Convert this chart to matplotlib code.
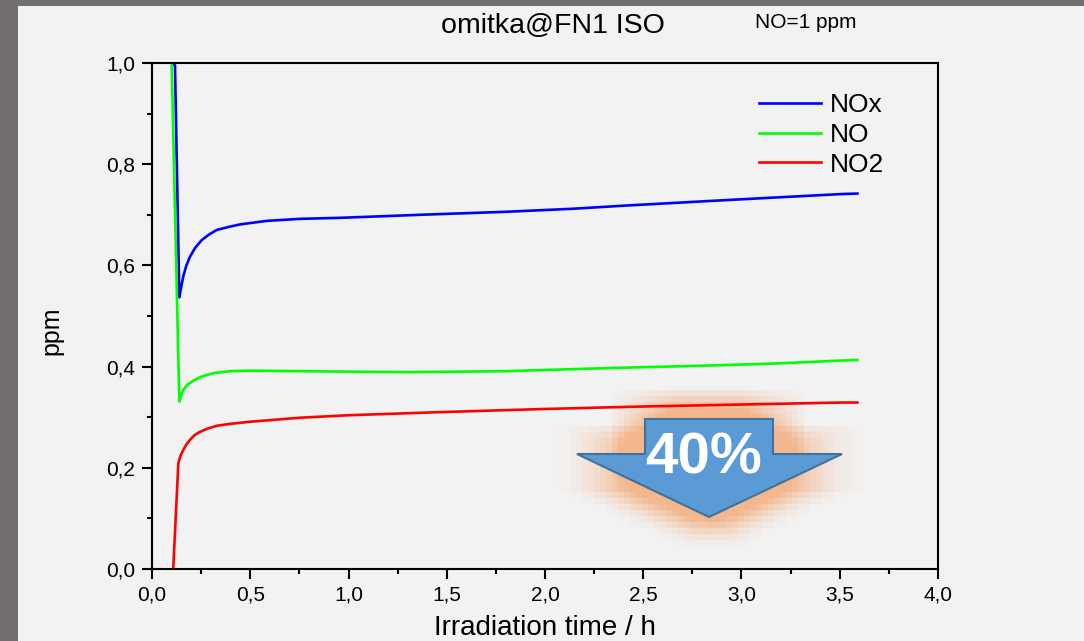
import numpy as np
import matplotlib
matplotlib.use("Agg")
import matplotlib.pyplot as plt
from matplotlib.patches import Polygon, Rectangle
from matplotlib.path import Path
from matplotlib.ticker import FuncFormatter, MultipleLocator

plt.rcParams["font.family"] = ["Liberation Sans", "DejaVu Sans"]

# data (time in h, concentration in ppm)
nox_t = [0.107, 0.117, 0.139, 0.150, 0.159, 0.175, 0.193, 0.220, 0.253, 0.290, 0.329, 0.390,
         0.448, 0.584, 0.753, 0.957, 1.364, 1.805, 2.144, 2.399, 2.823, 3.162, 3.510, 3.590]
nox_v = [1.000, 0.995, 0.537, 0.560, 0.578, 0.600, 0.617, 0.635, 0.650, 0.661, 0.670, 0.676,
         0.681, 0.688, 0.692, 0.694, 0.700, 0.706, 0.712, 0.718, 0.727, 0.734, 0.741, 0.742]

no_t = [0.100, 0.139, 0.150, 0.159, 0.180, 0.210, 0.250, 0.312, 0.400, 0.499, 0.753, 1.008,
        1.296, 1.805, 2.314, 2.823, 3.162, 3.510, 3.590]
no_v = [1.000, 0.331, 0.344, 0.354, 0.364, 0.372, 0.380, 0.387, 0.391, 0.392, 0.391, 0.390,
        0.389, 0.391, 0.397, 0.402, 0.406, 0.412, 0.413]

no2_t = [0.108, 0.134, 0.145, 0.159, 0.175, 0.193, 0.215, 0.244, 0.280, 0.329, 0.400, 0.499,
         0.753, 1.008, 1.466, 1.975, 2.483, 2.992, 3.510, 3.590]
no2_v = [0.000, 0.209, 0.224, 0.235, 0.246, 0.255, 0.264, 0.271, 0.277, 0.283, 0.287, 0.291,
         0.299, 0.304, 0.310, 0.316, 0.321, 0.325, 0.329, 0.329]

labels = ["NOx", "NO", "NO2"]
colors = ["#0000ff", "#00ff00", "#ff0000"]

W, H = 1084, 641
bg = "#f2f2f2"

fig = plt.figure(figsize=(W / 100, H / 100), dpi=100, facecolor=bg)
ax = fig.add_axes([152 / W, 1 - 569 / H, (938 - 152) / W, (569 - 63) / H])
ax.set_facecolor("none")

for t, v, lab, c in zip([nox_t, no_t, no2_t], [nox_v, no_v, no2_v], labels, colors):
    ax.plot(t, v, color=c, lw=1.9, label=lab)

ax.set_xlim(0, 4)
ax.set_ylim(0, 1)
ax.xaxis.set_major_locator(MultipleLocator(0.5))
ax.xaxis.set_minor_locator(MultipleLocator(0.25))
ax.yaxis.set_major_locator(MultipleLocator(0.2))
ax.yaxis.set_minor_locator(MultipleLocator(0.1))
comma = FuncFormatter(lambda v, p: f"{v:.1f}".replace(".", ","))
ax.xaxis.set_major_formatter(comma)
ax.yaxis.set_major_formatter(comma)

for s in ax.spines.values():
    s.set_linewidth(1.5)
ax.tick_params(which="major", direction="out", length=7, width=1.5, labelsize=15, pad=5,
               top=False, right=False)
ax.tick_params(which="minor", direction="out", length=3.5, width=1.5, top=False, right=False)

leg = ax.legend(loc="upper left", bbox_to_anchor=((759 - 152) / (938 - 152), 1 - (93 - 63) / (569 - 63)),
                frameon=False, fontsize=19, handlelength=2.35, handletextpad=0.35,
                labelspacing=0.22, borderpad=0, borderaxespad=0)

fig.text(553 / W, 1 - 33 / H, "omitka@FN1 ISO", ha="center", va="baseline", fontsize=20.5)
fig.text(755 / W, 1 - 28 / H, "NO=1 ppm", ha="left", va="baseline", fontsize=15)
fig.text(545 / W, 1 - 635 / H, "Irradiation time / h", ha="center", va="baseline", fontsize=20)
fig.text(51 / W, 1 - 331 / H, "ppm", ha="center", va="center", rotation=90, fontsize=18)

# 40% arrow with soft orange glow (figure pixel coords)
arrow_px = np.array([(645, 419), (773, 419), (773, 454), (842, 454),
                     (709, 517), (577, 454), (645, 454)], dtype=float)

cell = 6
ny, nx = H // cell + 1, W // cell + 1
gx, gy = np.meshgrid(np.arange(nx) * cell + cell / 2, np.arange(ny) * cell + cell / 2)
inside = Path(arrow_px).contains_points(np.c_[gx.ravel(), gy.ravel()]).reshape(ny, nx).astype(float)
k = 11
kern = np.ones(k) / k
blur = np.apply_along_axis(lambda r: np.convolve(r, kern, mode="same"), 1, inside)
blur = np.apply_along_axis(lambda c: np.convolve(c, kern, mode="same"), 0, blur)
alpha = np.clip(blur * 2.6, 0, 0.9)
alpha = np.repeat(np.repeat(alpha, cell, axis=0), cell, axis=1)[:H, :W]
glow = np.zeros((H, W, 4))
glow[..., 0] = 244 / 255
glow[..., 1] = 177 / 255
glow[..., 2] = 131 / 255
glow[..., 3] = alpha
fig.figimage(glow, xo=0, yo=0, origin="upper", zorder=-1)

arrow_fig = np.c_[arrow_px[:, 0] / W, 1 - arrow_px[:, 1] / H]
fig.add_artist(Polygon(arrow_fig, closed=True, transform=fig.transFigure,
                       facecolor="#5b9bd5", edgecolor="#41719c", lw=1.5, zorder=3))
fig.text(703 / W, 1 - 474 / H, "40%", ha="center", va="baseline", fontsize=42,
         weight="bold", color="white", zorder=4)

# grey frame strips of the slide
fig.add_artist(Rectangle((0, 0), 18 / W, 1, transform=fig.transFigure,
                         facecolor="#736f6e", edgecolor="none", zorder=5))
fig.add_artist(Rectangle((0, 1 - 6 / H), 1, 6 / H, transform=fig.transFigure,
                         facecolor="#736f6e", edgecolor="none", zorder=5))

fig.savefig("out.png", dpi=100, facecolor=bg)
